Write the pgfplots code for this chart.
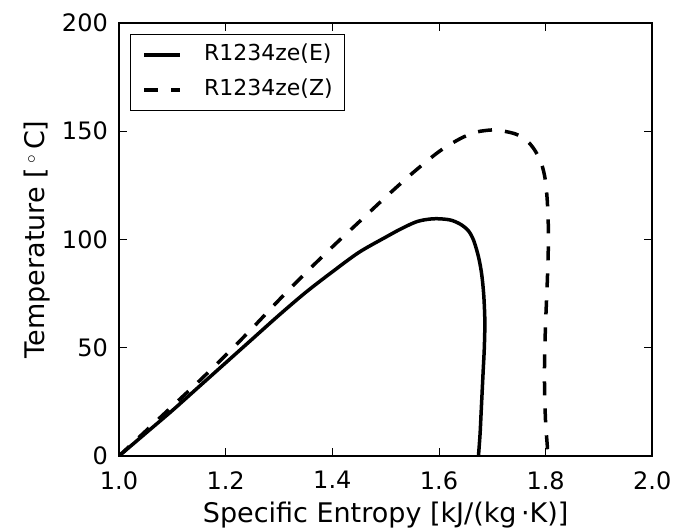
\documentclass[border=0pt]{standalone}
\usepackage{pgfplots}
\pgfplotsset{compat=1.18}
\usepackage{fontspec}
\setmainfont{DejaVu Sans}

\begin{document}
\begin{tikzpicture}[x=1bp,y=1bp]
  \path[use as bounding box] (0,0) rectangle (687,530);
  \begin{axis}[
    at={(119bp,74bp)},
    anchor=south west,
    scale only axis,
    width=533.3bp,
    height=433.3bp,
    xmin=1.0, xmax=2.0,
    ymin=0, ymax=200,
    xtick={1.0,1.2,1.4,1.6,1.8,2.0},
    ytick={0,50,100,150,200},
    xticklabels={1.0,1.2,1.4,1.6,1.8,2.0},
    tick align=inside,
    major tick length=8bp,
    tick style={line width=0.9bp, black},
    axis line style={line width=2bp},
    /pgf/number format/assume math mode=true,
    ticklabel style={font=\fontsize{24bp}{28bp}\selectfont},
    xticklabel style={inner sep=0bp, anchor=north, yshift=-15bp},
    yticklabel style={inner sep=0bp, anchor=east, xshift=-11bp},
    xlabel={Specific Entropy [kJ/(kg\,·K)]},
    ylabel={Temperature [\,$^\circ$\,C]},
    every axis x label/.style={at={(axis description cs:0.5,-0.1546)}, anchor=base,
      font=\fontsize{27bp}{32bp}\selectfont},
    every axis y label/.style={at={(axis description cs:-0.1388,0.5)}, rotate=90, anchor=base,
      font=\fontsize{27bp}{32bp}\selectfont},
    legend cell align=left,
    legend style={
      at={(0.0206,0.974)}, anchor=north west,
      draw=black, line width=1.3bp,
      font=\fontsize{22bp}{26bp}\selectfont,
      inner xsep=12bp, inner ysep=3bp,
      row sep=0bp,
      /tikz/every odd column/.append style={column sep=22bp},
      nodes={inner ysep=7bp, inner xsep=0bp, text height=16bp, text depth=5bp}
    },
    legend image code/.code={
      \draw[#1] (0bp,0bp) -- (36bp,0bp);
    },
  ]
    \addplot[black, line width=3.5bp, line join=round, smooth, tension=0.5] coordinates {
      (1.000,0) (1.05,10.5) (1.10,21) (1.15,32) (1.20,43) (1.25,54)
      (1.30,65) (1.35,75.5) (1.40,85) (1.45,94) (1.50,101) (1.53,105)
      (1.56,108.3) (1.59,109.5) (1.62,109) (1.64,107) (1.655,104)
      (1.665,99.5) (1.674,92) (1.680,84) (1.684,74) (1.686,62) (1.685,50)
      (1.683,40) (1.681,30) (1.679,20) (1.677,10) (1.674,0)
    };
    \addlegendentry{R1234ze(E)}
    \addplot[black, line width=3.5bp, line join=round, smooth, tension=0.5,
      dash pattern=on 14bp off 13bp] coordinates {
      (1.000,0) (1.05,11.5) (1.10,23) (1.15,34.5) (1.20,46.5) (1.25,59)
      (1.30,72) (1.35,84.5) (1.40,96.5) (1.45,108) (1.50,119.5) (1.55,130.5)
      (1.60,140.5) (1.64,146.5) (1.67,149.5) (1.70,150.5) (1.72,150)
      (1.745,148.5) (1.765,145.5) (1.780,141) (1.792,135) (1.799,128)
      (1.803,118) (1.805,106) (1.805,96) (1.803,80) (1.800,62) (1.798,45)
      (1.798,30) (1.800,15) (1.803,5) (1.804,0)
    };
    \addlegendentry{R1234ze(Z)}
  \end{axis}
\end{tikzpicture}
\end{document}
